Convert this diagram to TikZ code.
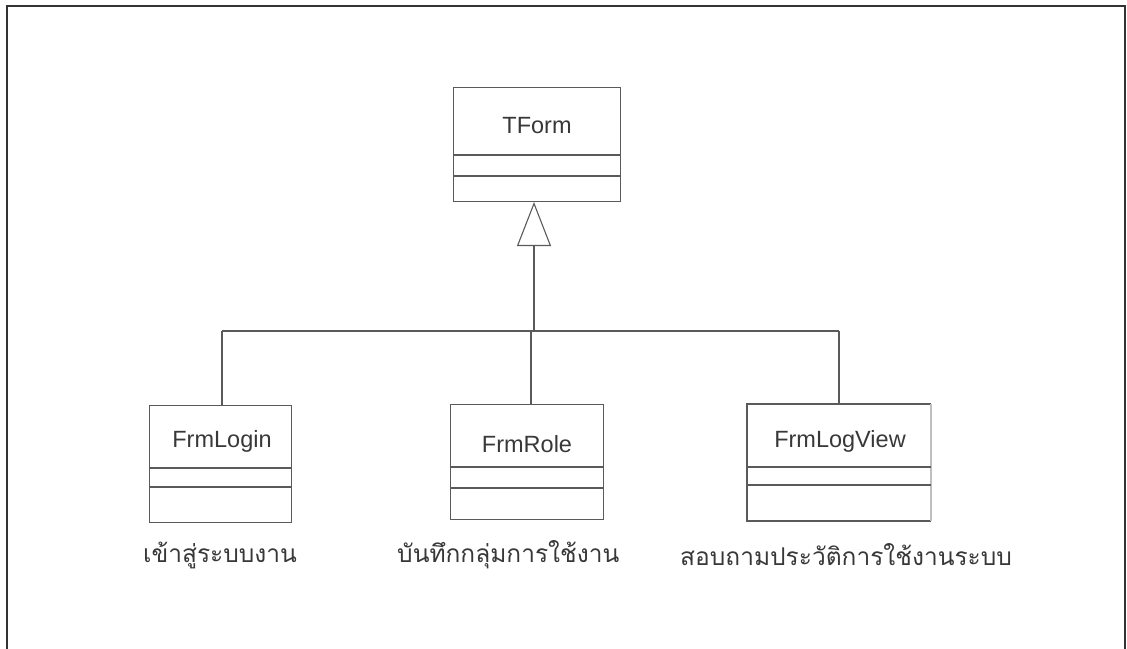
\documentclass[tikz,border=0pt]{standalone}
\usepackage{fontspec}
\setmainfont{Liberation Sans}
\newfontfamily\thaifont[Script=Thai]{Loma}
\usetikzlibrary{arrows.meta}
\definecolor{ln}{HTML}{5a5a5a}
\definecolor{bd}{HTML}{333333}
\begin{document}
\begin{tikzpicture}[x=1pt,y=-1pt,
  classbox/.style={draw=ln, line width=1.1pt, anchor=north west, inner sep=0pt},
  classname/.style={font=\fontsize{23.5}{26}\selectfont, text=black!78, anchor=center, inner sep=0pt},
  thailabel/.style={font=\thaifont\fontsize{24.5}{28}\selectfont, text=black!78, anchor=west, inner sep=0pt},
  conn/.style={draw=ln, line width=1.1pt}]
\useasboundingbox (0,0) rectangle (1127,648);
\draw[draw=bd, line width=2pt] (7,6) rectangle (1125,650);
% TForm
\node[classbox, minimum width=167pt, minimum height=114pt] (tform) at (453,87) {};
\node[classname] (tformt) at (537,126) {TForm};
\draw[conn] (453,155) -- (620,155) (453,176) -- (620,176);
% FrmLogin
\node[classbox, minimum width=142pt, minimum height=117pt] (login) at (149,405) {};
\node[classname] (logint) at (222,441) {FrmLogin};
\draw[conn] (149,468) -- (291,468) (149,487) -- (291,487);
% FrmRole
\node[classbox, minimum width=153pt, minimum height=115pt] (role) at (450,404) {};
\node[classname] (rolet) at (527,444) {FrmRole};
\draw[conn] (450,467) -- (603,467) (450,488) -- (603,488);
% FrmLogView (right edge faint)
\coordinate (lv) at (747,404);
\draw[conn] (931,404) -- (747,404) -- (747,521) -- (931,521);
\draw[draw=black!25, line width=1.1pt] (931,404) -- (931,521);
\node[classname] (lvt) at (840,441) {FrmLogView};
\draw[conn] (747,467) -- (931,467) (747,485) -- (931,485);
% connectors
\coordinate (j) at (534,331);
\coordinate (jl) at (222,331);
\coordinate (jr) at (839,331);
\draw[conn, -{Triangle[open, length=44pt, width=34pt, line width=1.1pt]}] (j) -- (534,202);
\draw[conn] (jl) -- (jr);
\draw[conn] (jl) -- (jl |- login.north);
\draw[conn] (j |- role.north) ++(-3,0) -- ++(0,-73);
\draw[conn] (jr) -- (839,404);
% labels
\node[thailabel] (l1) at (143,555) {เข้าสู่ระบบงาน};
\node[thailabel] (l2) at (397,555) {บันทึกกลุ่มการใช้งาน};
\node[thailabel] (l3) at (680,555) {สอบถามประวัติการใช้งานระบบ};
\end{tikzpicture}
\end{document}
